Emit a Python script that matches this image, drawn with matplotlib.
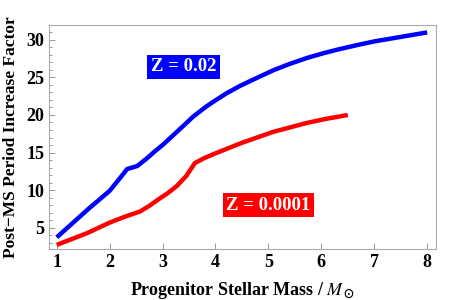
import matplotlib
matplotlib.use("Agg")
import matplotlib.pyplot as plt
from matplotlib.ticker import MultipleLocator

plt.rcParams['font.family'] = ['Liberation Serif', 'DejaVu Serif']
plt.rcParams['mathtext.fontset'] = 'stix'

# Z = 0.02 track
mass_hi = [1.0, 1.3, 1.6, 2.0, 2.15, 2.33, 2.52, 2.7, 2.86, 3.0, 3.2, 3.4, 3.58, 3.84, 4.0, 4.21, 4.47, 4.8,
           5.09, 5.4, 5.73, 6.05, 6.36, 6.7, 7.0, 7.5, 8.0]
fac_hi = [3.7, 5.6, 7.5, 9.9, 11.2, 12.8, 13.2, 14.2, 15.2, 16.0, 17.3, 18.6, 19.8, 21.2, 21.95, 22.9, 23.9, 25.0,
          25.95, 26.8, 27.6, 28.25, 28.8, 29.35, 29.8, 30.4, 31.0]

# Z = 0.0001 track
mass_lo = [1.0, 1.57, 2.0, 2.33, 2.57, 2.75, 2.95, 3.1, 3.27, 3.45, 3.61, 3.8, 4.02, 4.5, 5.09, 5.73, 6.1, 6.5]
fac_lo = [2.7, 4.25, 5.67, 6.56, 7.13, 7.9, 8.9, 9.6, 10.55, 11.9, 13.6, 14.3, 14.95, 16.3, 17.75, 18.95, 19.5, 20.0]

fig = plt.figure(figsize=(4.63, 3.0), dpi=100)
ax = fig.add_axes([0.106, 0.17, 0.836, 0.747])

ax.plot(mass_hi, fac_hi, color='#0000ff', lw=3.2, solid_capstyle='butt')
ax.plot(mass_lo, fac_lo, color='#ff0000', lw=3.2, solid_capstyle='butt')

ax.text(3.39, 26.4, 'Z = 0.02', color='white', fontsize=13.5, fontweight='bold',
        ha='center', va='center',
        bbox=dict(boxstyle='square,pad=0.2', fc='#0000ff', ec='none'))
ax.text(5.0, 8.0, 'Z = 0.0001', color='white', fontsize=13.5, fontweight='bold',
        ha='center', va='center',
        bbox=dict(boxstyle='square,pad=0.2', fc='#ff0000', ec='none'))

ax.set_xlim(0.855, 8.17)
ax.set_ylim(2.15, 32.0)
ax.set_xticks(range(1, 9))
ax.set_yticks([5, 10, 15, 20, 25, 30])
ax.yaxis.set_minor_locator(MultipleLocator(1))

ax.tick_params(which='both', direction='in', top=False, right=False,
               labelsize=13, color='#888888', width=0.6)
ax.tick_params(which='major', length=4)
ax.tick_params(which='minor', length=2.2)
for lab in ax.get_xticklabels() + ax.get_yticklabels():
    lab.set_fontweight('bold')
for s in ax.spines.values():
    s.set_color('#aaaaaa')
    s.set_linewidth(0.8)

ax.set_xlabel(r'Progenitor Stellar Mass / $\mathbf{\mathit{M}_\odot}$', fontsize=13,
              fontweight='bold', labelpad=7)
ax.set_ylabel('Post\u2212MS Period Increase Factor', fontsize=12.5, fontweight='bold',
              labelpad=5)

fig.savefig('out.png', dpi=100)
